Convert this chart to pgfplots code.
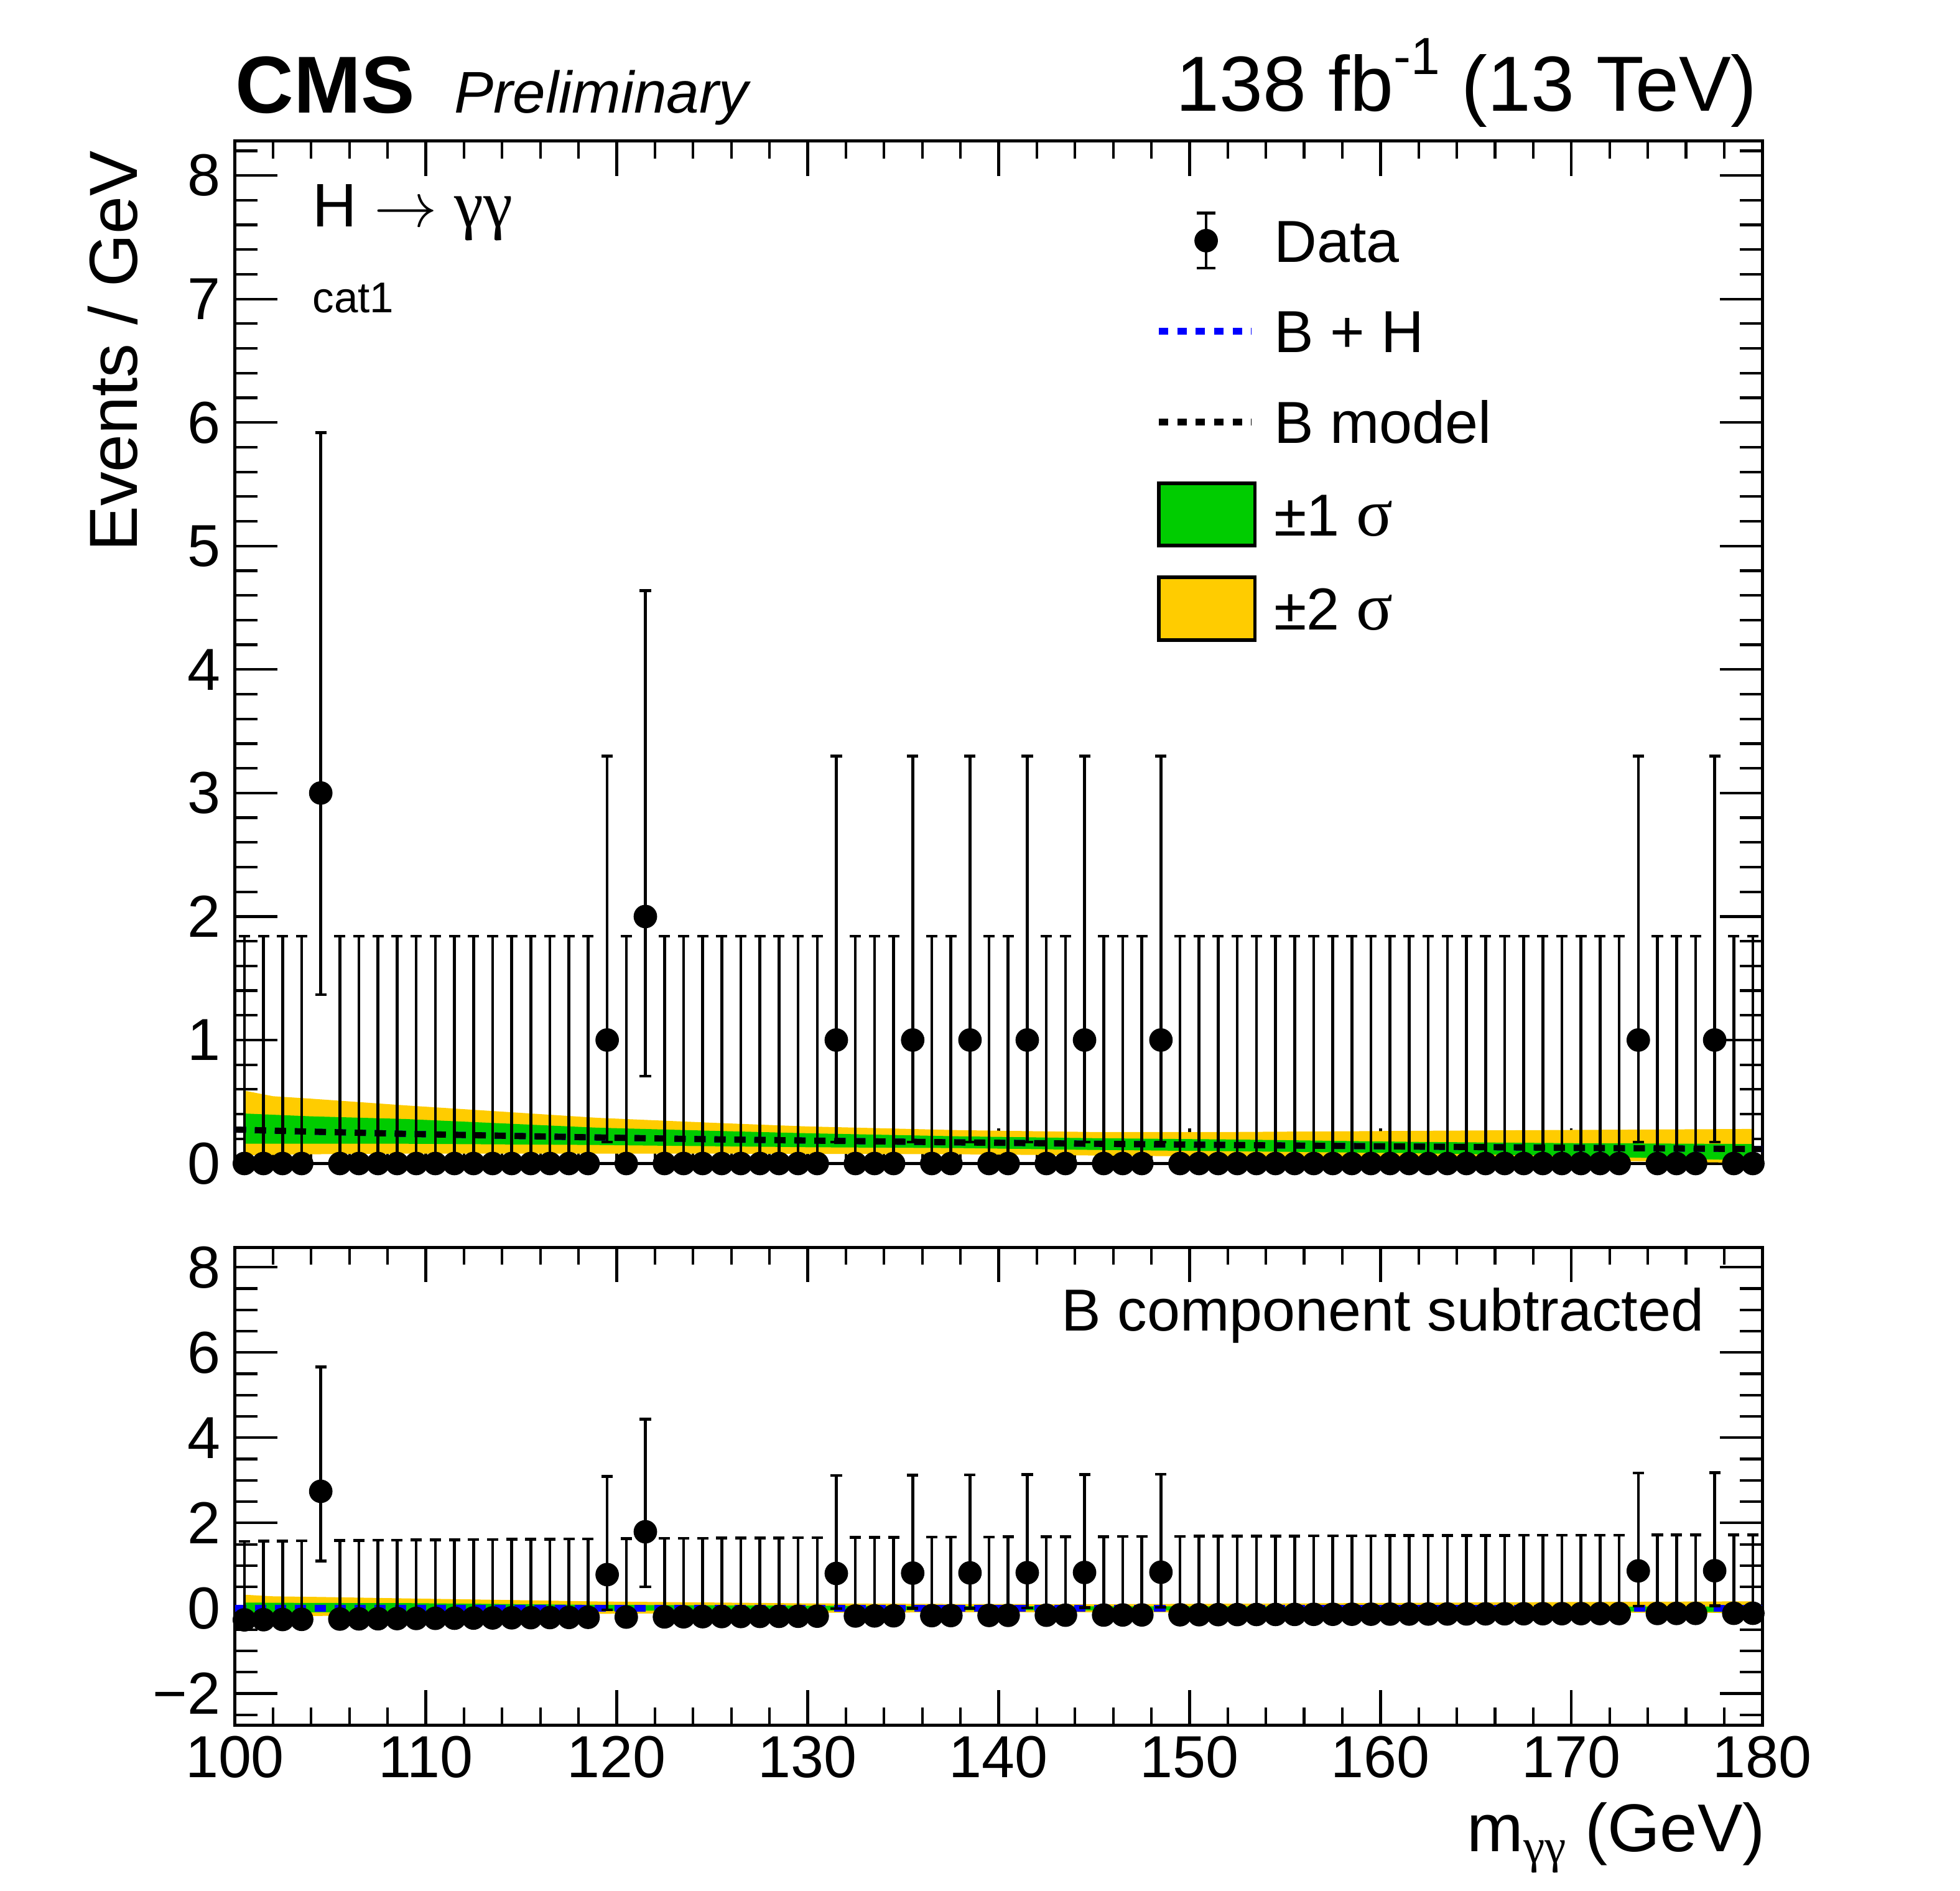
\documentclass[border=0pt]{standalone}
\usepackage{fontspec}
\setmainfont{Liberation Sans}
\newfontfamily\symf{Liberation Serif}
\usepackage{pgfplots}
\usepackage{pgfplotstable}
\pgfplotsset{compat=1.18}
\usepgfplotslibrary{fillbetween}
\definecolor{rootgreen}{RGB}{0,204,0}
\definecolor{rootyellow}{RGB}{255,204,0}

\pgfplotstableread{
x y ys ep em
100.5 0 -0.273 1.841 0
101.5 0 -0.269 1.841 0
102.5 0 -0.265 1.841 0
103.5 0 -0.261 1.841 0
104.5 3 2.743 2.918 1.633
105.5 0 -0.254 1.841 0
106.5 0 -0.250 1.841 0
107.5 0 -0.247 1.841 0
108.5 0 -0.243 1.841 0
109.5 0 -0.240 1.841 0
110.5 0 -0.237 1.841 0
111.5 0 -0.234 1.841 0
112.5 0 -0.231 1.841 0
113.5 0 -0.228 1.841 0
114.5 0 -0.225 1.841 0
115.5 0 -0.222 1.841 0
116.5 0 -0.219 1.841 0
117.5 0 -0.216 1.841 0
118.5 0 -0.213 1.841 0
119.5 1 0.789 2.300 0.827
120.5 0 -0.208 1.841 0
121.5 2 1.794 2.638 1.292
122.5 0 -0.203 1.841 0
123.5 0 -0.201 1.841 0
124.5 0 -0.198 1.841 0
125.5 0 -0.196 1.841 0
126.5 0 -0.194 1.841 0
127.5 0 -0.192 1.841 0
128.5 0 -0.190 1.841 0
129.5 0 -0.188 1.841 0
130.5 0 -0.186 1.841 0
131.5 1 0.816 2.300 0.827
132.5 0 -0.182 1.841 0
133.5 0 -0.180 1.841 0
134.5 0 -0.178 1.841 0
135.5 1 0.824 2.300 0.827
136.5 0 -0.174 1.841 0
137.5 0 -0.172 1.841 0
138.5 1 0.829 2.300 0.827
139.5 0 -0.169 1.841 0
140.5 0 -0.167 1.841 0
141.5 1 0.834 2.300 0.827
142.5 0 -0.164 1.841 0
143.5 0 -0.163 1.841 0
144.5 1 0.839 2.300 0.827
145.5 0 -0.160 1.841 0
146.5 0 -0.158 1.841 0
147.5 0 -0.157 1.841 0
148.5 1 0.845 2.300 0.827
149.5 0 -0.154 1.841 0
150.5 0 -0.152 1.841 0
151.5 0 -0.150 1.841 0
152.5 0 -0.149 1.841 0
153.5 0 -0.147 1.841 0
154.5 0 -0.146 1.841 0
155.5 0 -0.145 1.841 0
156.5 0 -0.143 1.841 0
157.5 0 -0.142 1.841 0
158.5 0 -0.141 1.841 0
159.5 0 -0.140 1.841 0
160.5 0 -0.138 1.841 0
161.5 0 -0.137 1.841 0
162.5 0 -0.136 1.841 0
163.5 0 -0.135 1.841 0
164.5 0 -0.134 1.841 0
165.5 0 -0.132 1.841 0
166.5 0 -0.131 1.841 0
167.5 0 -0.130 1.841 0
168.5 0 -0.129 1.841 0
169.5 0 -0.128 1.841 0
170.5 0 -0.127 1.841 0
171.5 0 -0.126 1.841 0
172.5 0 -0.125 1.841 0
173.5 1 0.876 2.300 0.827
174.5 0 -0.123 1.841 0
175.5 0 -0.122 1.841 0
176.5 0 -0.121 1.841 0
177.5 1 0.880 2.300 0.827
178.5 0 -0.119 1.841 0
179.5 0 -0.118 1.841 0
}\datatab

\pgfplotstableread{
x y2lo y1lo y1hi y2hi
100.5 0.068 0.160 0.405 0.590
102 0.070 0.160 0.395 0.545
104 0.075 0.160 0.382 0.525
109 0.080 0.160 0.360 0.470
114 0.080 0.155 0.325 0.420
119 0.080 0.150 0.290 0.370
125 0.080 0.140 0.265 0.330
130 0.078 0.132 0.245 0.300
138 0.075 0.125 0.220 0.270
145 0.065 0.110 0.205 0.255
152 0.055 0.100 0.195 0.255
162 0.040 0.083 0.175 0.265
170 0.025 0.060 0.165 0.272
179.5 0.005 0.025 0.158 0.280
}\bandtop

\pgfplotstableread{
x b
100 0.275
102 0.266
104 0.258
109 0.240
114 0.225
119 0.211
125 0.196
130 0.186
138 0.171
145 0.160
152 0.150
162 0.137
170 0.127
180 0.117
}\bline

\pgfplotstableread{
x l2 l1 h1 h2
100.5 -0.205 -0.113 0.132 0.317
102 -0.196 -0.106 0.129 0.279
104 -0.183 -0.098 0.124 0.267
109 -0.160 -0.080 0.120 0.230
114 -0.145 -0.070 0.100 0.195
119 -0.131 -0.061 0.079 0.159
125 -0.116 -0.056 0.069 0.134
130 -0.108 -0.054 0.059 0.114
138 -0.096 -0.046 0.049 0.099
145 -0.095 -0.050 0.045 0.095
152 -0.095 -0.050 0.045 0.105
162 -0.097 -0.054 0.038 0.128
170 -0.102 -0.067 0.038 0.145
179.5 -0.113 -0.093 0.040 0.162
}\bandbot

\pgfplotstableread{
x s
100 0
180 0
}\sline

\pgfplotsset{
  cmsaxis/.style={
    scale only axis, width=12.23cm, xmin=100, xmax=180,
    axis line style={line width=0.7pt},
    tick align=inside,
    xtick={100,110,...,180},
    minor xtick={100,102,...,180},
    every tick/.append style={black, line width=0.6pt},
    xtick style={/pgfplots/major tick length=0.28cm, /pgfplots/minor tick length=0.14cm},
    ytick style={/pgfplots/major tick length=0.34cm, /pgfplots/minor tick length=0.18cm},
    tick label style={font=\fontsize{13.5}{14}\selectfont},
    /pgf/number format/assume math mode=true,
    xticklabel style={anchor=north, inner sep=0pt, yshift=-0.08cm},
    yticklabel style={anchor=east, inner sep=0pt, xshift=-0.11cm},
    clip=false,
  },
  datastyle/.style={only marks, mark=*, mark size=0.087cm, black, mark options={solid, fill=black},
    error bars/y dir=both, error bars/y explicit,
    error bars/error bar style={line width=0.65pt, solid},
    error bars/error mark options={rotate=90, line width=0.65pt, mark size=0.045cm}},
}

\begin{document}
\begin{tikzpicture}

% ---------------- top panel ----------------
\begin{axis}[cmsaxis,
  at={(1.88cm,5.824cm)}, anchor=south west, height=8.187cm,
  ymin=0, ymax=8.28,
  ytick={0,1,...,8}, minor ytick={0,0.2,...,8.2},
  xticklabels={},
  ylabel={Events / GeV},
  every axis y label/.style={at={(axis description cs:-0.0638,0.9912)}, rotate=90, anchor=base east, inner sep=0pt, font=\fontsize{15.5}{16}\selectfont},
  legend cell align=left,
  legend style={at={(axis description cs:0.6025,0.9330)}, anchor=north west,
    draw=none, fill=none, inner sep=0pt, outer sep=0pt,
    row sep=0.226cm, column sep=0.14cm,
    font=\fontsize{13.5}{14}\selectfont,
    nodes={inner sep=0pt, text height=0.34cm, text depth=0pt}},
]
\addlegendimage{legend image code/.code={
  \path[draw=none, fill=none] (0cm,-0.25cm) rectangle (0.77cm,0.25cm);
  \draw[black, solid, line width=0.65pt] (0.38cm,-0.22cm) -- (0.38cm,0.22cm)
     (0.305cm,-0.22cm) -- (0.455cm,-0.22cm) (0.305cm,0.22cm) -- (0.455cm,0.22cm);
  \fill[black] (0.38cm,0cm) circle (0.087cm);}}
\addlegendimage{legend image code/.code={
  \path[draw=none, fill=none] (0cm,-0.25cm) rectangle (0.77cm,0.25cm);
  \draw[blue, line width=1.6pt, dash pattern=on 0.076cm off 0.072cm] (0cm,0cm) -- (0.745cm,0cm);}}
\addlegendimage{legend image code/.code={
  \path[draw=none, fill=none] (0cm,-0.25cm) rectangle (0.77cm,0.25cm);
  \draw[black, line width=1.6pt, dash pattern=on 0.076cm off 0.072cm] (0cm,0cm) -- (0.745cm,0cm);}}
\addlegendimage{legend image code/.code={
  \draw[black, solid, line width=0.8pt, fill=rootgreen] (0cm,-0.25cm) rectangle (0.77cm,0.25cm);}}
\addlegendimage{legend image code/.code={
  \draw[black, solid, line width=0.8pt, fill=rootyellow] (0cm,-0.25cm) rectangle (0.77cm,0.25cm);}}

\addplot[draw=none, forget plot, name path=t2hi] table[x=x, y=y2hi] {\bandtop};
\addplot[draw=none, forget plot, name path=t2lo] table[x=x, y=y2lo] {\bandtop};
\addplot[draw=none, forget plot, name path=t1hi] table[x=x, y=y1hi] {\bandtop};
\addplot[draw=none, forget plot, name path=t1lo] table[x=x, y=y1lo] {\bandtop};
\addplot[rootyellow, forget plot] fill between[of=t2hi and t2lo];
\addplot[rootgreen, forget plot] fill between[of=t1hi and t1lo];

\addplot[blue, line width=1.4pt, dash pattern=on 0.09cm off 0.07cm, forget plot] table[x=x, y=b] {\bline};
\addplot[black, line width=1.4pt, dash pattern=on 0.09cm off 0.07cm, forget plot] table[x=x, y=b] {\bline};

\addplot[forget plot, datastyle] table[x=x, y=y, y error plus=ep, y error minus=em] {\datatab};

\legend{Data, B + H, B model, {±1 {\symf\fontsize{15.5}{16}\selectfont σ}}, {±2 {\symf\fontsize{15.5}{16}\selectfont σ}}}

\node[anchor=base west, inner sep=0pt, font=\fontsize{18.4}{19}\selectfont\bfseries] at (axis description cs:0.0,1.0274) {CMS};
\node[anchor=base west, inner sep=0pt, font=\fontsize{13.4}{14}\selectfont\itshape] at (axis description cs:0.143,1.0274) {Preliminary};
\node[anchor=base east, inner sep=0pt, font=\fontsize{17.8}{18}\selectfont] at (axis description cs:0.997,1.0294) {138 fb\raisebox{0.29cm}{\fontsize{11.9}{12}\selectfont -1} (13 TeV)};
\node[anchor=base west, inner sep=0pt, font=\fontsize{14}{14}\selectfont] at (axis description cs:0.0504,0.9163) {H $\rightarrow$ {\symf\fontsize{15}{15}\selectfont γγ}};
\node[anchor=base west, inner sep=0pt, font=\fontsize{9.8}{10}\selectfont] at (axis description cs:0.0504,0.832) {cat1};
\end{axis}

% ---------------- bottom panel ----------------
\begin{axis}[cmsaxis,
  at={(1.88cm,1.329cm)}, anchor=south west, height=3.825cm,
  ymin=-2.74, ymax=8.47,
  ytick={-2,0,2,4,6,8}, yticklabels={−2,0,2,4,6,8},
  minor ytick={-2.5,-2,...,8},
  xlabel={m\raisebox{-0.09cm}{\fontsize{11}{11}\selectfont\symf γγ} (GeV)},
  every axis x label/.style={at={(axis description cs:1.0025,-0.265)}, anchor=base east, inner sep=0pt, font=\fontsize{15.4}{16}\selectfont},
]
\addplot[draw=none, forget plot, name path=b2hi] table[x=x, y=h2] {\bandbot};
\addplot[draw=none, forget plot, name path=b2lo] table[x=x, y=l2] {\bandbot};
\addplot[draw=none, forget plot, name path=b1hi] table[x=x, y=h1] {\bandbot};
\addplot[draw=none, forget plot, name path=b1lo] table[x=x, y=l1] {\bandbot};
\addplot[rootyellow, forget plot] fill between[of=b2hi and b2lo];
\addplot[rootgreen, forget plot] fill between[of=b1hi and b1lo];

\addplot[blue, line width=1.6pt, dash pattern=on 0.09cm off 0.07cm, forget plot] table[x=x, y=s] {\sline};

\addplot[forget plot, datastyle] table[x=x, y=ys, y error plus=ep, y error minus=em] {\datatab};

\node[anchor=base east, inner sep=0pt, font=\fontsize{13.5}{14}\selectfont] at (axis description cs:0.9624,0.825) {B component subtracted};
\end{axis}

\pgfresetboundingbox
\path[use as bounding box] (0,0) rectangle (15.692cm,15.139cm);
\end{tikzpicture}
\end{document}
